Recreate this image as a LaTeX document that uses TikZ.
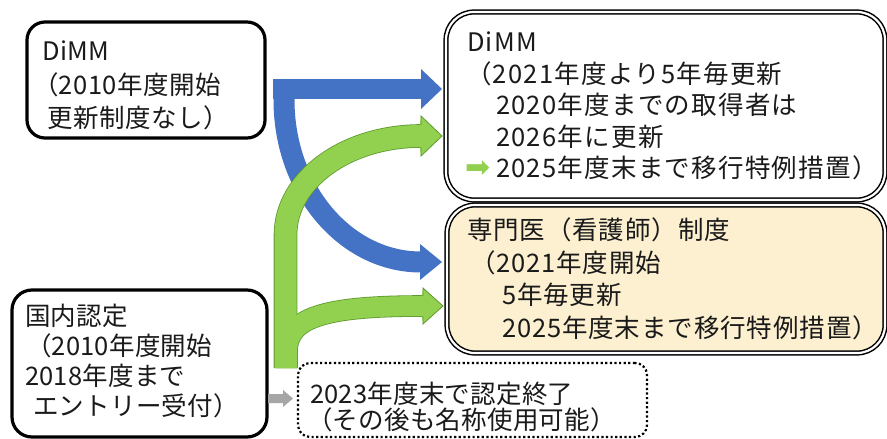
\documentclass[tikz,border=0pt]{standalone}
\usepackage{fontspec}
\setmainfont{Noto Sans CJK JP}
\newfontfamily\fOne[LetterSpace=2]{Noto Sans CJK JP}
\newfontfamily\fTwo[LetterSpace=5]{Noto Sans CJK JP}
\newfontfamily\fThree[LetterSpace=3.5]{Noto Sans CJK JP}
\newfontfamily\fFour[LetterSpace=1]{Noto Sans CJK JP}
\newfontfamily\fFive[LetterSpace=1]{Noto Sans CJK JP}
\newfontfamily\symfont{DejaVu Sans}
\newcommand\tstrut[1]{\rule{0pt}{#1}}
\newcommand\bstrut[1]{\rule[-#1]{0pt}{0pt}}
\definecolor{ablue}{HTML}{4472C4}
\definecolor{agreen}{HTML}{92D050}
\definecolor{agreendk}{HTML}{5E9A2E}
\definecolor{agray}{HTML}{A6A6A6}
\definecolor{ayellow}{HTML}{FCF0D0}
\definecolor{atext}{HTML}{1A1A1A}
\begin{document}
\begin{tikzpicture}[x=1pt,y=-1pt,
  every node/.style={text=atext, align=left, inner ysep=0pt},
  boxA/.style={draw=black, line width=3.2pt, rounded corners=18pt},
  boxD/.style={draw=black, double=white, double distance=2.2pt, line width=1.5pt, rounded corners=28pt},
  boxDot/.style={draw=black, line width=2.2pt, dash pattern=on 2.2pt off 2.4pt, rounded corners=12pt},
  blueband/.style={draw=ablue, line width=21pt},
  greenout/.style={draw=agreendk, line width=23.6pt},
  greenin/.style={draw=agreen, line width=22pt},
  headout/.style={draw=agreendk, line width=0.8pt, line join=miter}
]
\useasboundingbox (0,0) rectangle (887,439);

% ---------- boxes ----------
\node[boxA, font=\fOne\fontsize{25.5}{33.5}\selectfont, minimum width=238pt, minimum height=116pt, inner xsep=15pt, text width=208pt] (b1) at (146,80)
 {\tstrut{31pt}DiMM\\
  \hspace*{-9pt}（2010年度開始\\
  \hspace*{5pt}更新制度なし）};

\node[boxD, fill=white, font=\fTwo\fontsize{25.5}{31.5}\selectfont, minimum width=439pt, minimum height=188pt, inner xsep=21pt, text width=397pt] (b2) at (665.5,106)
 {DiMM\\
  \hspace*{-1pt}（2021年度より5年毎更新\\
  \hspace*{29pt}2020年度までの取得者は\\
  \hspace*{29pt}2026年に更新\\
  \hspace*{29pt}\llap{\textcolor{agreen}{\symfont\fontsize{30}{31.5}\selectfont ➡}\hspace{5pt}}2025年度末まで移行特例措置）};

\node[boxD, fill=ayellow, font=\fThree\fontsize{25.5}{32.5}\selectfont, minimum width=438pt, minimum height=148pt, inner xsep=20pt, text width=398pt] (b3) at (666,279)
 {専門医（看護師）制度\\
  \hspace*{3pt}（2021年度開始\\
  \hspace*{35pt}5年毎更新\\
  \hspace*{35pt}2025年度末まで移行特例措置）};

\node[boxA, font=\fFour\fontsize{25.5}{30}\selectfont, minimum width=255pt, minimum height=147pt, inner xsep=13pt, text width=229pt, rounded corners=20pt] (b4) at (139.5,363.5)
 {国内認定\\
  \hspace*{1pt}（2010年度開始\\
  2018年度まで\\
  \hspace*{8pt}エントリー受付）\bstrut{8pt}};

\node[boxDot, font=\fFive\fontsize{25.5}{26}\selectfont, minimum width=349pt, minimum height=74pt, inner xsep=12pt, text width=325pt] (b5) at (472.5,400)
 {\tstrut{35pt}2023年度末で認定終了\\
  \hspace*{-3pt}（その後も名称使用可能）};

% ---------- named anchor points of the block arrows ----------
\coordinate (bStart) at (273,89);
\coordinate (bTip1) at (442,89);
\coordinate (bTip2) at (442,262);
\coordinate (gStart) at (285.5,368);
\coordinate (gTip1) at (442,136);
\coordinate (gTip2) at (443,306);
\coordinate (grStart) at (268,398.5);
\coordinate (grTip) at (293,398.5);

% ---------- blue arrows ----------
\fill[ablue] (bStart |- 0,79) rectangle (422,99);
\draw[blueband] (284,90) -- (284,100) .. controls (284,189) and (345,262) .. (421,262);
\fill[ablue] (421,79) -- (421,69) -- (bTip1) -- (421,109) -- (421,99) -- cycle;
\fill[ablue] (420,251.5) -- (420,244) -- (bTip2) -- (420,280) -- (420,272.5) -- cycle;

% ---------- green arrows ----------
\draw[greenout] (gStart) -- (285.5,235) .. controls (285.5,180) and (346,136) .. (421,136);
\draw[greenout, line width=21.6pt] (287,368) -- (287,352) .. controls (287,318) and (322,306) .. (423,306);
\draw[greenin] (gStart) -- (285.5,235) .. controls (285.5,180) and (346,136) .. (421,136);
\draw[greenin, line width=20pt] (287,368) -- (287,352) .. controls (287,318) and (322,306) .. (423,306);
\fill[agreen] (420,125) -- (421,116) -- (gTip1) -- (421,156) -- (420,147) -- cycle;
\draw[headout] (421,125) -- (421,116) -- (gTip1) -- (421,156) -- (421,147);
\fill[agreen] (422,296) -- (423,288) -- (gTip2) -- (423,324) -- (422,316) -- cycle;
\draw[headout] (423,296) -- (423,288) -- (gTip2) -- (423,324) -- (423,316);

% ---------- gray arrow ----------
\fill[agray] (grStart) ++(0,-4.5) -- (283,394) -- (283,390) -- (grTip) -- (283,407) -- (283,403) -- (268,403) -- cycle;
\end{tikzpicture}
\end{document}
